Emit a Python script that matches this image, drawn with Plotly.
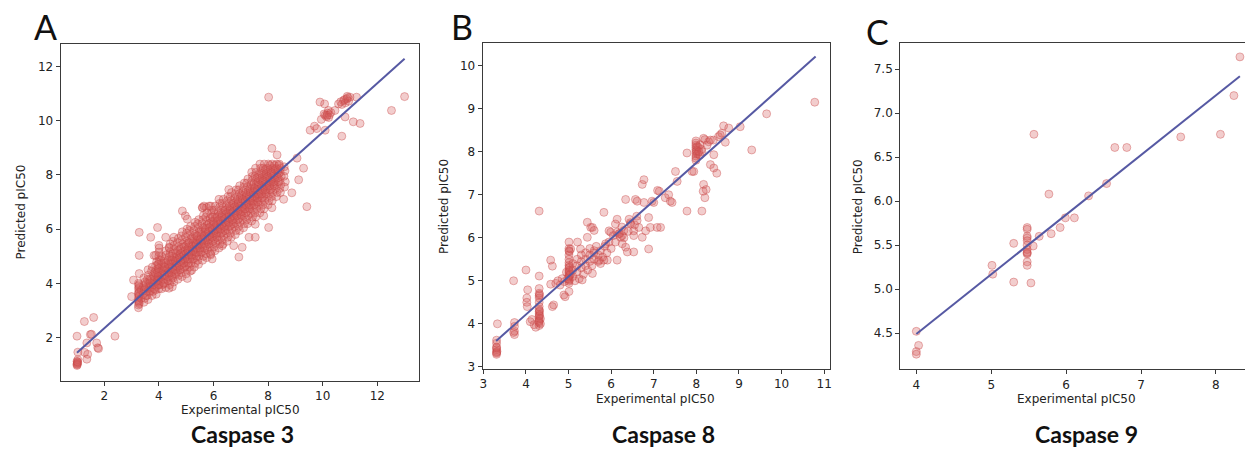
import plotly.graph_objects as go

# ---------------------------------------------------------------------------
# Experimental vs predicted pIC50 for three caspases, (exp, pred) pairs
# ---------------------------------------------------------------------------

casp3_points = [
    # low-potency tail
    (1.00, 0.97), (1.00, 1.02), (1.02, 1.07), (1.00, 1.12), (1.03, 1.18), (1.01, 1.05),
    (1.03, 1.46), (1.00, 2.05), (1.27, 2.59), (1.61, 2.74), (1.49, 2.11), (2.39, 2.05),
    (1.36, 1.80), (1.36, 1.20), (1.72, 1.80), (1.76, 1.62), (1.79, 1.59), (1.39, 1.38),
    (1.53, 2.12), (1.28, 1.45), (1.01, 1.00), (1.02, 1.10),
    # series measured at 3.25
    (3.25, 3.10), (3.25, 3.20), (3.27, 3.30), (3.25, 3.40), (3.26, 3.50), (3.25, 3.60),
    (3.27, 3.70), (3.25, 3.80), (3.26, 3.90), (3.25, 4.00), (3.28, 3.25), (3.28, 3.55),
    (3.28, 3.85), (3.07, 4.12), (3.00, 3.51), (3.28, 4.36), (3.28, 5.03), (3.28, 5.88),
    (3.35, 3.45), (3.35, 3.75), (3.26, 3.35), (3.26, 3.65), (3.27, 3.95),
    # main band
    (3.45, 3.30), (3.48, 3.45), (3.43, 3.60), (3.47, 3.75), (3.44, 3.90), (3.49, 4.05), (3.45, 4.20),
    (3.60, 3.40), (3.57, 3.55), (3.62, 3.70), (3.59, 3.85), (3.63, 4.00), (3.58, 4.15), (3.61, 4.30), (3.60, 4.50),
    (3.75, 3.55), (3.78, 3.70), (3.72, 3.85), (3.77, 4.00), (3.74, 4.15), (3.79, 4.30), (3.73, 4.45), (3.76, 4.60),
    (3.90, 3.60), (3.87, 3.75), (3.92, 3.90), (3.88, 4.05), (3.93, 4.20), (3.89, 4.35), (3.91, 4.50), (3.88, 4.65), (3.92, 4.80),
    (4.00, 3.80), (4.01, 3.95), (3.99, 4.10), (4.00, 4.25), (4.02, 4.40), (4.00, 4.55), (3.99, 4.70),
    (4.01, 4.85), (4.00, 5.00), (4.00, 5.15), (4.01, 5.30), (4.00, 5.40),
    (4.10, 3.80), (4.13, 3.95), (4.08, 4.10), (4.12, 4.25), (4.09, 4.40), (4.14, 4.55), (4.10, 4.70), (4.07, 4.85), (4.11, 5.00),
    (4.25, 3.85), (4.22, 4.00), (4.27, 4.15), (4.23, 4.30), (4.28, 4.45), (4.24, 4.60), (4.26, 4.75), (4.21, 4.90), (4.27, 5.05), (4.25, 5.20),
    (4.40, 3.95), (4.43, 4.10), (4.38, 4.25), (4.42, 4.40), (4.37, 4.55), (4.41, 4.70), (4.44, 4.85), (4.39, 5.00), (4.42, 5.15), (4.38, 5.30), (4.41, 5.45),
    (4.55, 4.05), (4.52, 4.20), (4.57, 4.35), (4.53, 4.50), (4.58, 4.65), (4.54, 4.80), (4.56, 4.95), (4.51, 5.10), (4.57, 5.25), (4.55, 5.40), (4.52, 5.55),
    (4.70, 4.15), (4.73, 4.30), (4.68, 4.45), (4.72, 4.60), (4.67, 4.75), (4.71, 4.90), (4.74, 5.05), (4.69, 5.20), (4.72, 5.35), (4.68, 5.50), (4.71, 5.65),
    (4.85, 4.25), (4.82, 4.40), (4.87, 4.55), (4.83, 4.70), (4.88, 4.85), (4.84, 5.00), (4.86, 5.15), (4.81, 5.30), (4.87, 5.45), (4.85, 5.60), (4.82, 5.75), (4.86, 5.90),
    (5.00, 4.35), (5.03, 4.50), (4.98, 4.65), (5.02, 4.80), (4.97, 4.95), (5.01, 5.10), (5.04, 5.25), (4.99, 5.40), (5.02, 5.55), (4.98, 5.70), (5.01, 5.85), (5.03, 6.00),
    (5.15, 4.45), (5.12, 4.60), (5.17, 4.75), (5.13, 4.90), (5.18, 5.05), (5.14, 5.20), (5.16, 5.35), (5.11, 5.50), (5.17, 5.65), (5.15, 5.80), (5.12, 5.95), (5.16, 6.10),
    (5.30, 4.60), (5.33, 4.75), (5.28, 4.90), (5.32, 5.05), (5.27, 5.20), (5.31, 5.35), (5.34, 5.50), (5.29, 5.65), (5.32, 5.80), (5.28, 5.95), (5.31, 6.10), (5.33, 6.25),
    (5.45, 4.70), (5.42, 4.85), (5.47, 5.00), (5.43, 5.15), (5.48, 5.30), (5.44, 5.45), (5.46, 5.60), (5.41, 5.75), (5.47, 5.90), (5.45, 6.05), (5.42, 6.20), (5.46, 6.35),
    (5.60, 4.85), (5.63, 5.00), (5.58, 5.15), (5.62, 5.30), (5.57, 5.45), (5.61, 5.60), (5.64, 5.75), (5.59, 5.90), (5.62, 6.05), (5.58, 6.20), (5.61, 6.35), (5.63, 6.50), (5.60, 6.80),
    (5.75, 4.95), (5.72, 5.10), (5.77, 5.25), (5.73, 5.40), (5.78, 5.55), (5.74, 5.70), (5.76, 5.85), (5.71, 6.00), (5.77, 6.15), (5.75, 6.30), (5.72, 6.45), (5.76, 6.60), (5.74, 6.80),
    (5.90, 5.05), (5.93, 5.20), (5.88, 5.35), (5.92, 5.50), (5.87, 5.65), (5.91, 5.80), (5.94, 5.95), (5.89, 6.10), (5.92, 6.25), (5.88, 6.40), (5.91, 6.55), (5.93, 6.70), (5.90, 6.85),
    (6.05, 5.20), (6.02, 5.35), (6.07, 5.50), (6.03, 5.65), (6.08, 5.80), (6.04, 5.95), (6.06, 6.10), (6.01, 6.25), (6.07, 6.40), (6.05, 6.55), (6.02, 6.70), (6.06, 6.85),
    (6.20, 5.30), (6.23, 5.45), (6.18, 5.60), (6.22, 5.75), (6.17, 5.90), (6.21, 6.05), (6.24, 6.20), (6.19, 6.35), (6.22, 6.50), (6.18, 6.65), (6.21, 6.80), (6.23, 6.95),
    (6.35, 5.45), (6.32, 5.60), (6.37, 5.75), (6.33, 5.90), (6.38, 6.05), (6.34, 6.20), (6.36, 6.35), (6.31, 6.50), (6.37, 6.65), (6.35, 6.80), (6.32, 6.95), (6.36, 7.10),
    (6.50, 5.55), (6.53, 5.70), (6.48, 5.85), (6.52, 6.00), (6.47, 6.15), (6.51, 6.30), (6.54, 6.45), (6.49, 6.60), (6.52, 6.75), (6.48, 6.90), (6.51, 7.05), (6.53, 7.20),
    (6.65, 5.70), (6.62, 5.85), (6.67, 6.00), (6.63, 6.15), (6.68, 6.30), (6.64, 6.45), (6.66, 6.60), (6.61, 6.75), (6.67, 6.90), (6.65, 7.05), (6.62, 7.20), (6.66, 7.35),
    (6.80, 5.80), (6.83, 5.95), (6.78, 6.10), (6.82, 6.25), (6.77, 6.40), (6.81, 6.55), (6.84, 6.70), (6.79, 6.85), (6.82, 7.00), (6.78, 7.15), (6.81, 7.30), (6.83, 7.45),
    (6.95, 5.95), (6.92, 6.10), (6.97, 6.25), (6.93, 6.40), (6.98, 6.55), (6.94, 6.70), (6.96, 6.85), (6.91, 7.00), (6.97, 7.15), (6.95, 7.30), (6.92, 7.45), (6.96, 7.60),
    (7.10, 6.05), (7.13, 6.20), (7.08, 6.35), (7.12, 6.50), (7.07, 6.65), (7.11, 6.80), (7.14, 6.95), (7.09, 7.10), (7.12, 7.25), (7.08, 7.40), (7.11, 7.55), (7.13, 7.70),
    (7.25, 6.20), (7.22, 6.35), (7.27, 6.50), (7.23, 6.65), (7.28, 6.80), (7.24, 6.95), (7.26, 7.10), (7.21, 7.25), (7.27, 7.40), (7.25, 7.55), (7.22, 7.70), (7.26, 7.85),
    (7.40, 6.30), (7.43, 6.45), (7.38, 6.60), (7.42, 6.75), (7.37, 6.90), (7.41, 7.05), (7.44, 7.20), (7.39, 7.35), (7.42, 7.50), (7.38, 7.65), (7.41, 7.80), (7.43, 7.95), (7.40, 8.10),
    (7.55, 6.45), (7.52, 6.60), (7.57, 6.75), (7.53, 6.90), (7.58, 7.05), (7.54, 7.20), (7.56, 7.35), (7.51, 7.50), (7.57, 7.65), (7.55, 7.80), (7.52, 7.95), (7.56, 8.10), (7.54, 8.25),
    (7.70, 6.60), (7.73, 6.75), (7.68, 6.90), (7.72, 7.05), (7.67, 7.20), (7.71, 7.35), (7.74, 7.50), (7.69, 7.65), (7.72, 7.80), (7.68, 7.95), (7.71, 8.10), (7.73, 8.25), (7.70, 8.40),
    (7.85, 6.75), (7.82, 6.90), (7.87, 7.05), (7.83, 7.20), (7.88, 7.35), (7.84, 7.50), (7.86, 7.65), (7.81, 7.80), (7.87, 7.95), (7.85, 8.10), (7.82, 8.25), (7.86, 8.40),
    (8.00, 6.90), (8.03, 7.05), (7.98, 7.20), (8.02, 7.35), (7.97, 7.50), (8.01, 7.65), (8.04, 7.80), (7.99, 7.95), (8.02, 8.10), (7.98, 8.25), (8.01, 8.40),
    (8.15, 7.05), (8.12, 7.20), (8.17, 7.35), (8.13, 7.50), (8.18, 7.65), (8.14, 7.80), (8.16, 7.95), (8.11, 8.10), (8.17, 8.25), (8.15, 8.40),
    (8.30, 7.20), (8.33, 7.35), (8.28, 7.50), (8.32, 7.65), (8.27, 7.80), (8.31, 7.95), (8.34, 8.10), (8.29, 8.25), (8.32, 8.40),
    (8.45, 7.35), (8.42, 7.50), (8.47, 7.65), (8.43, 7.80), (8.48, 7.95), (8.44, 8.10), (8.46, 8.25), (8.41, 8.40),
    (8.60, 7.55), (8.63, 7.75), (8.58, 7.95), (8.62, 8.15), (8.59, 8.30),
    # band core
    (3.53, 3.55), (3.55, 3.70), (3.52, 3.85), (3.54, 4.00),
    (3.68, 3.70), (3.66, 3.85), (3.69, 4.00), (3.67, 4.15),
    (3.83, 3.80), (3.81, 3.95), (3.84, 4.10), (3.82, 4.25), (3.85, 4.40),
    (3.98, 3.95), (3.96, 4.10), (3.97, 4.25), (3.95, 4.40), (3.98, 4.55), (3.96, 4.70),
    (4.18, 4.00), (4.16, 4.15), (4.19, 4.30), (4.17, 4.45), (4.20, 4.60), (4.18, 4.75),
    (4.33, 4.10), (4.31, 4.25), (4.34, 4.40), (4.32, 4.55), (4.35, 4.70), (4.33, 4.85),
    (4.48, 4.25), (4.46, 4.40), (4.49, 4.55), (4.47, 4.70), (4.50, 4.85), (4.48, 5.00),
    (4.63, 4.35), (4.61, 4.50), (4.64, 4.65), (4.62, 4.80), (4.65, 4.95), (4.63, 5.10),
    (4.78, 4.50), (4.76, 4.65), (4.79, 4.80), (4.77, 4.95), (4.80, 5.10), (4.78, 5.25),
    (4.93, 4.60), (4.91, 4.75), (4.94, 4.90), (4.92, 5.05), (4.95, 5.20), (4.93, 5.35),
    (5.08, 4.75), (5.06, 4.90), (5.09, 5.05), (5.07, 5.20), (5.10, 5.35), (5.08, 5.50),
    (5.23, 4.90), (5.21, 5.05), (5.24, 5.20), (5.22, 5.35), (5.25, 5.50), (5.23, 5.65),
    (5.38, 5.00), (5.36, 5.15), (5.39, 5.30), (5.37, 5.45), (5.40, 5.60), (5.38, 5.75),
    (5.53, 5.15), (5.51, 5.30), (5.54, 5.45), (5.52, 5.60), (5.55, 5.75), (5.53, 5.90),
    (5.68, 5.30), (5.66, 5.45), (5.69, 5.60), (5.67, 5.75), (5.70, 5.90), (5.68, 6.05),
    (5.83, 5.45), (5.81, 5.60), (5.84, 5.75), (5.82, 5.90), (5.85, 6.05), (5.83, 6.20),
    (5.98, 5.55), (5.96, 5.70), (5.99, 5.85), (5.97, 6.00), (6.00, 6.15), (5.98, 6.30), (5.96, 6.45),
    (6.13, 5.70), (6.11, 5.85), (6.14, 6.00), (6.12, 6.15), (6.15, 6.30), (6.13, 6.45),
    (6.28, 5.85), (6.26, 6.00), (6.29, 6.15), (6.27, 6.30), (6.30, 6.45), (6.28, 6.60),
    (6.43, 5.95), (6.41, 6.10), (6.44, 6.25), (6.42, 6.40), (6.45, 6.55), (6.43, 6.70),
    (6.58, 6.10), (6.56, 6.25), (6.59, 6.40), (6.57, 6.55), (6.60, 6.70), (6.58, 6.85),
    (6.73, 6.20), (6.71, 6.35), (6.74, 6.50), (6.72, 6.65), (6.75, 6.80), (6.73, 6.95),
    (6.88, 6.35), (6.86, 6.50), (6.89, 6.65), (6.87, 6.80), (6.90, 6.95), (6.88, 7.10),
    (7.03, 6.50), (7.01, 6.65), (7.04, 6.80), (7.02, 6.95), (7.05, 7.10), (7.03, 7.25),
    (7.18, 6.60), (7.16, 6.75), (7.19, 6.90), (7.17, 7.05), (7.20, 7.20), (7.18, 7.35),
    (7.33, 6.75), (7.31, 6.90), (7.34, 7.05), (7.32, 7.20), (7.35, 7.35), (7.33, 7.50),
    (7.48, 6.90), (7.46, 7.05), (7.49, 7.20), (7.47, 7.35), (7.50, 7.50), (7.48, 7.65),
    (7.63, 7.00), (7.61, 7.15), (7.64, 7.30), (7.62, 7.45), (7.65, 7.60), (7.63, 7.75), (7.61, 7.90),
    (7.78, 7.15), (7.76, 7.30), (7.79, 7.45), (7.77, 7.60), (7.80, 7.75), (7.78, 7.90), (7.76, 8.05),
    (7.93, 7.30), (7.91, 7.45), (7.94, 7.60), (7.92, 7.75), (7.95, 7.90), (7.93, 8.05), (7.91, 8.20),
    (8.08, 7.45), (8.06, 7.60), (8.09, 7.75), (8.07, 7.90), (8.10, 8.05), (8.08, 8.20), (8.06, 8.35),
    (8.23, 7.60), (8.21, 7.75), (8.24, 7.90), (8.22, 8.05), (8.25, 8.20), (8.23, 8.35),
    (8.38, 7.75), (8.36, 7.90), (8.39, 8.05), (8.37, 8.20), (8.40, 8.35),
    # scattered compounds around the band
    (3.70, 5.70), (3.95, 6.06), (4.25, 5.70), (4.55, 5.70), (4.86, 6.67), (4.97, 6.49),
    (3.82, 5.03), (3.88, 5.03), (4.37, 5.33), (4.49, 3.87), (4.37, 3.82), (5.04, 4.18),
    (5.20, 4.48), (5.04, 6.37), (5.89, 5.09), (5.95, 4.90), (6.32, 5.39), (5.59, 6.79),
    (5.65, 6.85), (5.84, 6.85), (6.20, 7.10), (6.56, 7.46), (6.74, 5.39), (7.05, 5.33),
    (6.93, 4.97), (7.30, 5.70), (7.53, 5.70), (7.53, 6.18), (7.84, 6.49), (8.02, 6.06),
    (8.14, 6.79), (8.57, 7.10), (8.87, 7.34), (9.12, 7.82), (9.30, 8.25), (9.42, 6.83),
    (9.06, 8.62), (8.14, 8.98), (8.33, 8.74), (8.02, 10.87),
    # high-potency group
    (9.90, 10.69), (10.07, 10.62), (10.21, 10.38), (10.09, 10.20), (10.14, 10.15), (10.05, 10.25),
    (10.18, 10.28), (10.25, 10.22), (10.30, 10.30), (10.22, 10.12), (9.78, 9.71), (9.54, 9.65),
    (9.70, 9.80), (10.58, 10.62), (10.76, 10.74), (10.88, 10.80), (10.83, 10.66), (11.00, 10.87),
    (11.24, 10.87), (10.95, 10.72), (10.70, 10.60), (10.66, 10.70), (10.45, 10.38), (10.82, 10.14),
    (11.12, 9.96), (11.37, 9.90), (10.09, 9.65), (10.70, 9.43), (12.52, 10.38), (13.00, 10.89),
    (10.90, 10.90), (9.95, 10.05), (10.16, 10.20), (10.80, 10.78), (10.92, 10.85),
]

casp8_points = [
    # series at 3.3 and 3.7
    (3.31, 3.29), (3.31, 3.34), (3.31, 3.40), (3.31, 3.46), (3.31, 3.55), (3.31, 3.62),
    (3.32, 3.36), (3.33, 4.00), (3.31, 3.32), (3.31, 3.44),
    (3.73, 4.03), (3.73, 3.94), (3.73, 3.83), (3.73, 3.75), (3.71, 3.80), (3.71, 5.00),
    # around 4.0 - 4.3
    (4.00, 5.25), (4.04, 4.79), (4.02, 4.60), (4.02, 4.50), (4.03, 4.40), (4.14, 4.10),
    (4.19, 3.98), (4.10, 4.05),
    (4.31, 3.96), (4.31, 4.02), (4.31, 4.08), (4.31, 4.13), (4.31, 4.18), (4.31, 4.23),
    (4.31, 4.28), (4.31, 4.33), (4.31, 4.40), (4.31, 4.50), (4.31, 4.60), (4.31, 4.65),
    (4.31, 4.71), (4.31, 4.82), (4.31, 5.11), (4.31, 6.62), (4.23, 3.92), (4.34, 4.00),
    (4.34, 4.12), (4.32, 4.20), (4.32, 4.30), (4.32, 4.68), (4.30, 4.05),
    (4.58, 5.48), (4.62, 5.34), (4.65, 4.44), (4.62, 4.40), (4.58, 4.92), (4.70, 4.94),
    (4.90, 4.98), (4.89, 4.67), (4.80, 4.90), (4.85, 5.05), (4.75, 5.00), (4.95, 5.20),
    # series at 5.0
    (5.01, 4.94), (5.01, 4.99), (5.01, 5.04), (5.01, 5.09), (5.01, 5.14), (5.01, 5.19),
    (5.01, 5.24), (5.01, 5.30), (5.01, 5.36), (5.01, 5.42), (5.01, 5.50), (5.01, 5.60),
    (5.01, 5.70), (5.01, 5.75), (5.01, 5.90), (5.01, 4.75), (4.92, 4.63), (4.98, 5.05),
    (5.04, 5.15), (5.05, 5.74), (5.02, 5.02), (5.02, 5.12), (5.02, 5.22), (5.02, 5.32),
    (5.02, 5.68),
    # 5.0 - 6.7
    (5.10, 5.10), (5.10, 5.25), (5.10, 5.40), (5.15, 5.00), (5.20, 5.20), (5.20, 5.35),
    (5.20, 5.50), (5.25, 5.05), (5.30, 5.30), (5.30, 5.45), (5.30, 5.60), (5.35, 5.15),
    (5.40, 5.35), (5.40, 5.50), (5.40, 5.65), (5.45, 5.25), (5.50, 5.45), (5.50, 5.60),
    (5.50, 5.75), (5.55, 5.35), (5.60, 5.50), (5.60, 5.65), (5.65, 5.80), (5.70, 5.45),
    (5.70, 5.60), (5.75, 5.70), (5.80, 5.55), (5.85, 5.80), (5.90, 5.65), (5.95, 5.90),
    (6.00, 5.75), (6.05, 6.05), (6.10, 5.90), (6.20, 6.10), (6.25, 6.25), (6.30, 6.00),
    (6.40, 6.15), (6.45, 6.35), (6.55, 6.30), (6.60, 6.50),
    (5.21, 5.90), (5.28, 5.74), (5.44, 6.36), (5.52, 6.24), (5.56, 6.24), (5.60, 6.17),
    (5.44, 6.01), (5.32, 5.02), (5.56, 5.17), (5.75, 5.40), (5.95, 6.16), (5.99, 6.13),
    (6.14, 6.13), (6.10, 6.32), (6.14, 6.43), (6.14, 5.48), (5.91, 5.48), (5.83, 5.48),
    (5.71, 5.48), (5.60, 5.70), (5.87, 5.86), (6.22, 6.01), (6.26, 5.86), (6.34, 5.78),
    (6.38, 5.67), (6.53, 5.67), (6.53, 6.16), (6.34, 6.89), (6.57, 6.89), (6.61, 6.85),
    (6.42, 6.43), (6.46, 6.32), (6.61, 6.40), (6.65, 6.24), (6.53, 6.05), (6.26, 6.05),
    (6.18, 6.09), (5.83, 6.59), (6.30, 6.17),
    # 6.7 - 8.0
    (6.73, 6.01), (6.81, 6.16), (6.92, 6.24), (6.88, 5.74), (6.88, 6.47), (6.77, 6.82),
    (6.96, 6.85), (7.00, 6.82), (6.73, 7.24), (6.77, 7.35), (7.08, 6.24), (7.16, 6.24),
    (7.09, 7.10), (7.13, 7.08), (7.27, 6.93), (7.35, 7.00), (7.39, 6.85), (7.43, 6.82),
    (7.51, 7.54), (7.55, 7.31), (7.78, 6.62), (7.78, 7.97), (7.90, 7.54), (7.94, 7.54),
    (8.13, 6.62),
    # series at 8.0 and above
    (7.99, 7.80), (7.99, 7.85), (7.99, 7.90), (7.99, 7.95), (7.99, 8.00), (7.99, 8.05),
    (7.99, 8.10), (7.99, 8.15), (7.99, 8.20), (7.99, 8.25), (8.03, 7.95), (8.05, 8.10),
    (8.09, 8.16), (8.13, 8.00), (8.17, 8.31), (8.20, 8.28), (8.29, 8.23), (8.25, 8.15),
    (8.33, 8.27), (8.40, 8.27), (8.52, 8.35), (8.60, 8.43), (8.64, 8.60), (8.76, 8.55),
    (8.68, 8.22), (8.41, 7.93), (8.33, 7.70), (8.41, 7.62), (8.48, 7.50), (8.17, 7.24),
    (8.23, 7.12), (8.16, 7.08), (8.20, 6.93), (9.03, 8.58), (9.30, 8.04), (9.65, 8.88),
    (10.78, 9.15), (8.12, 8.05), (8.08, 7.92), (8.56, 8.39), (8.01, 8.02), (8.02, 8.12),
    (8.06, 8.00),
]

casp9_points = [
    (4.00, 4.52), (4.03, 4.36), (4.00, 4.29), (4.00, 4.26),
    (5.01, 5.27), (5.02, 5.17), (5.30, 5.52), (5.30, 5.08),
    (5.48, 5.70), (5.48, 5.68), (5.48, 5.60), (5.48, 5.58), (5.48, 5.55), (5.48, 5.50),
    (5.48, 5.45), (5.48, 5.41), (5.48, 5.40), (5.48, 5.31), (5.48, 5.27), (5.48, 5.42),
    (5.57, 6.76), (5.53, 5.07), (5.56, 5.49), (5.64, 5.60), (5.77, 6.08), (5.80, 5.63),
    (5.92, 5.70), (5.99, 5.81), (6.11, 5.81), (6.30, 6.06), (6.54, 6.20), (6.65, 6.61),
    (6.81, 6.61), (7.53, 6.73), (8.06, 6.76), (8.24, 7.20), (8.32, 7.64),
]

# least-squares fit lines (end points)
casp3_fit_exp = [1.0, 13.0]
casp3_fit_pred = [1.44, 12.29]
casp8_fit_exp = [3.3, 10.8]
casp8_fit_pred = [3.60, 10.21]
casp9_fit_exp = [4.0, 8.32]
casp9_fit_pred = [4.49, 7.42]

casp3_ticks = [2, 4, 6, 8, 10, 12]
casp8_xticks = [3, 4, 5, 6, 7, 8, 9, 10, 11]
casp8_yticks = [3, 4, 5, 6, 7, 8, 9, 10]
casp9_xticks = [4, 5, 6, 7, 8]
casp9_yticks = [4.5, 5.0, 5.5, 6.0, 6.5, 7.0, 7.5]

panel_letters = ["A", "B", "C"]
panel_names = ["Caspase 3", "Caspase 8", "Caspase 9"]
x_title = "Experimental pIC50"
y_title = "Predicted pIC50"

# ---------------------------------------------------------------------------
W, H = 1247, 451
POINT_FILL = "rgba(212,88,88,0.30)"
POINT_EDGE = "rgba(200,70,70,0.40)"
LINE_COLOR = "#5659a3"
AXIS_COLOR = "#3a3a3a"
TICK_FONT = dict(family="DejaVu Sans", size=12, color="#222222")


def px_x(v):
    return v / W


def px_y(v):
    return 1 - v / H


fig = go.Figure()

panels = [
    dict(points=casp3_points, fx=casp3_fit_exp, fy=casp3_fit_pred, xa="x", ya="y"),
    dict(points=casp8_points, fx=casp8_fit_exp, fy=casp8_fit_pred, xa="x2", ya="y2"),
    dict(points=casp9_points, fx=casp9_fit_exp, fy=casp9_fit_pred, xa="x3", ya="y3"),
]

for p in panels:
    fig.add_trace(go.Scatter(
        x=[pt[0] for pt in p["points"]], y=[pt[1] for pt in p["points"]],
        mode="markers", xaxis=p["xa"], yaxis=p["ya"], showlegend=False,
        marker=dict(size=8, color=POINT_FILL, line=dict(color=POINT_EDGE, width=1)),
        hoverinfo="skip",
    ))
    fig.add_trace(go.Scatter(
        x=p["fx"], y=p["fy"], mode="lines", xaxis=p["xa"], yaxis=p["ya"],
        showlegend=False, line=dict(color=LINE_COLOR, width=2), hoverinfo="skip",
    ))

axis_common = dict(
    showgrid=False, zeroline=False, showline=True, linecolor=AXIS_COLOR, linewidth=1.3,
    ticks="outside", ticklen=4, tickwidth=1, tickcolor=AXIS_COLOR, tickfont=TICK_FONT,
)

fig.update_layout(
    width=W, height=H, margin=dict(l=0, r=0, t=0, b=0),
    paper_bgcolor="white", plot_bgcolor="white",
    xaxis=dict(axis_common, domain=[px_x(58), px_x(418)], range=[0.405, 13.54],
               tickvals=casp3_ticks, mirror=True, anchor="y"),
    yaxis=dict(axis_common, domain=[px_y(385), px_y(44)], range=[0.405, 12.85],
               tickvals=casp3_ticks, mirror=True, anchor="x"),
    xaxis2=dict(axis_common, domain=[px_x(481.7), px_x(830)], range=[2.986, 11.13],
                tickvals=casp8_xticks, mirror=True, anchor="y2"),
    yaxis2=dict(axis_common, domain=[px_y(372.7), px_y(43.3)], range=[2.96, 10.53],
                tickvals=casp8_yticks, mirror=True, anchor="x2"),
    xaxis3=dict(axis_common, domain=[px_x(901), 1.0], range=[3.787, 8.388],
                tickvals=casp9_xticks, mirror=True, anchor="y3"),
    yaxis3=dict(axis_common, domain=[px_y(373.3), px_y(43.3)], range=[4.09, 7.80],
                tickvals=casp9_yticks, tickformat=".1f", mirror=False, anchor="x3"),
)

annotations = []
# panel letters
for letter, (lx, ly) in zip(panel_letters, [(43, 27), (461, 27), (878, 32)]):
    annotations.append(dict(text=letter, x=px_x(lx), y=px_y(ly), xref="paper", yref="paper",
                            xanchor="center", yanchor="middle", showarrow=False,
                            font=dict(family="Lato", size=34, color="#111111")))
# x-axis titles
for (tx, ty) in [(238, 415), (655, 403), (1078, 403)]:
    annotations.append(dict(text=x_title, x=px_x(tx), y=px_y(ty), xref="paper", yref="paper",
                            xanchor="center", yanchor="middle", showarrow=False,
                            font=dict(family="DejaVu Sans", size=12, color="#222222")))
# y-axis titles
for (tx, ty) in [(18, 214), (442, 209), (858, 209)]:
    annotations.append(dict(text=y_title, x=px_x(tx), y=px_y(ty), xref="paper", yref="paper",
                            xanchor="center", yanchor="middle", showarrow=False, textangle=-90,
                            font=dict(family="DejaVu Sans", size=12, color="#222222")))
# enzyme names
for name, cx in zip(panel_names, [240, 663, 1088]):
    annotations.append(dict(text="<b>" + name + "</b>", x=px_x(cx), y=px_y(439), xref="paper",
                            yref="paper", xanchor="center", yanchor="middle", showarrow=False,
                            font=dict(family="Lato", size=23, color="#111111")))

fig.update_layout(annotations=annotations)

fig.write_html("out.html")
